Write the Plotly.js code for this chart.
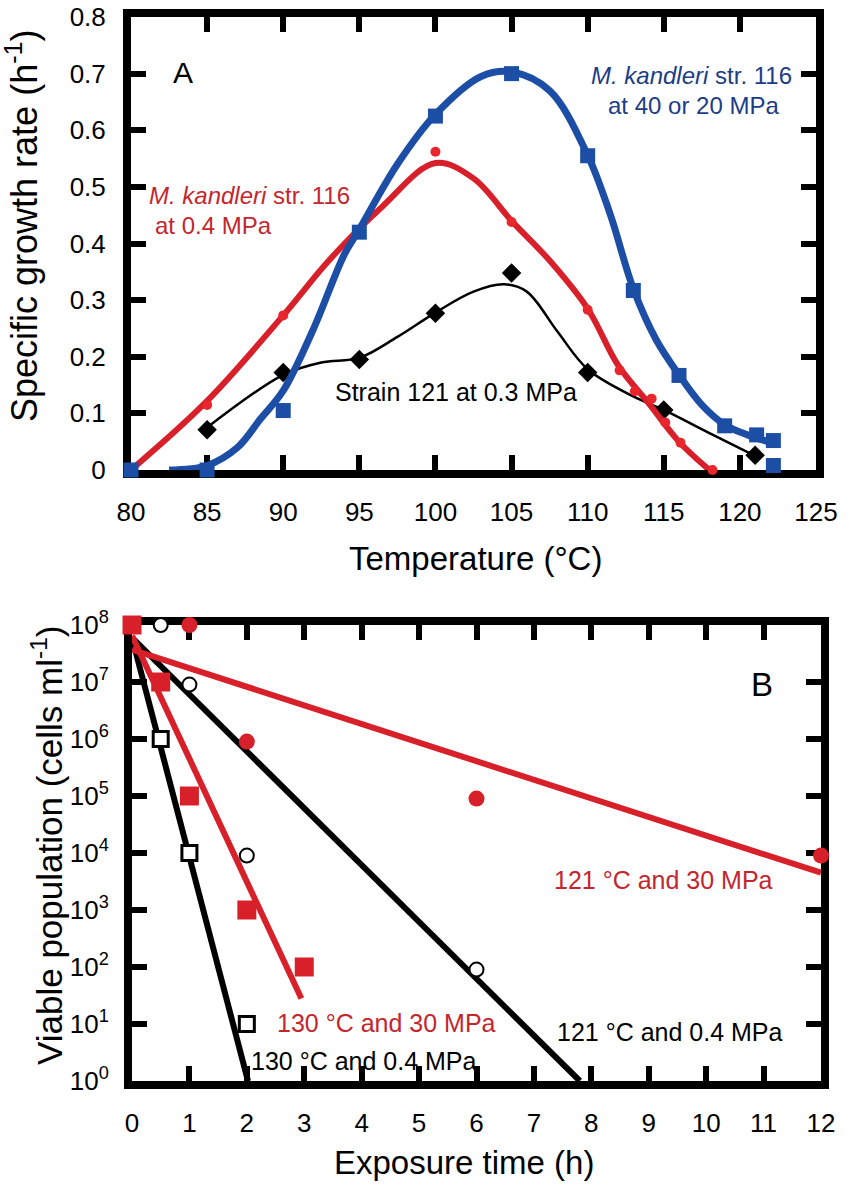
<!DOCTYPE html>
<html>
<head>
<meta charset="utf-8">
<script src="https://cdn.plot.ly/plotly-3.0.1.min.js"></script>
<style>html,body{margin:0;padding:0;background:#fff;}#chart{width:850px;height:1186px;}</style>
</head>
<body>
<div id="chart"></div>
<script>
// ---------- Panel A: specific growth rate vs temperature ----------
const tempBlue = [80, 85, 90, 95, 100, 105, 110, 113, 116, 119, 121.1, 122.2, 122.2];
const rateBlue = [0, 0, 0.105, 0.42, 0.625, 0.70, 0.555, 0.317, 0.167, 0.078, 0.062, 0.052, 0.008];
const fitTempBlue = [82.5, 85, 87, 88.5, 90, 92, 94, 95, 97.5, 100, 103, 105, 107.5, 110, 111.5, 113, 114.5, 116, 117.5, 119, 120.5, 122.5];
const fitRateBlue = [0, 0.008, 0.04, 0.09, 0.14, 0.25, 0.38, 0.425, 0.54, 0.628, 0.695, 0.703, 0.67, 0.556, 0.45, 0.32, 0.23, 0.168, 0.115, 0.08, 0.062, 0.045];

const tempRed = [80, 85, 90, 100, 105, 110, 112.1, 113.1, 114.2, 115.1, 116.1, 118.2];
const rateRed = [0, 0.115, 0.273, 0.562, 0.438, 0.283, 0.176, 0.139, 0.126, 0.084, 0.048, 0];
const fitTempRed = [80, 85, 90, 93, 96.5, 100, 102.5, 105, 107.5, 110, 112, 114, 116, 118];
const fitRateRed = [0, 0.122, 0.273, 0.37, 0.465, 0.542, 0.515, 0.44, 0.37, 0.285, 0.185, 0.118, 0.05, 0];

const tempBlack = [85, 90, 95, 100, 105, 110, 115, 121];
const rateBlack = [0.071, 0.172, 0.195, 0.277, 0.348, 0.172, 0.106, 0.026];
const fitTempBlack = [85, 90, 92.5, 95, 97.5, 100, 102.5, 104.5, 106, 108, 110, 113, 115, 118, 121];
const fitRateBlack = [0.075, 0.168, 0.19, 0.198, 0.235, 0.278, 0.315, 0.328, 0.315, 0.245, 0.178, 0.13, 0.106, 0.065, 0.025];

const tempTicks = [80, 85, 90, 95, 100, 105, 110, 115, 120, 125];

// ---------- Panel B: viable population vs exposure time ----------
const timeRedSq = [0, 0.5, 1, 2, 3];            // 130 °C, 30 MPa
const popRedSq = [1e8, 1e7, 1e5, 1e3, 1e2];
const timeOpenSq = [0.5, 1, 2];                  // 130 °C, 0.4 MPa
const popOpenSq = [1e6, 1e4, 10];
const timeOpenCirc = [0.5, 1, 2, 6];             // 121 °C, 0.4 MPa
const popOpenCirc = [1e8, 9e6, 9e3, 90];
const timeRedCirc = [1, 2, 6, 12];               // 121 °C, 30 MPa
const popRedCirc = [1e8, 9e5, 9e4, 9e3];

const fitTime121_30 = [0, 12];
const fitPop121_30 = [3.7e7, 4.5e3];
const fitTime121_04 = [0, 7.8];
const fitPop121_04 = [6e7, 1];
const fitTime130_30 = [0, 2.95];
const fitPop130_30 = [6.5e7, 28];
const fitTime130_04 = [0, 2.02];
const fitPop130_04 = [6e7, 1];

const popTickVals = [1, 10, 100, 1e3, 1e4, 1e5, 1e6, 1e7, 1e8];
const popTickText = ['10<sup>0</sup>', '10<sup>1</sup>', '10<sup>2</sup>', '10<sup>3</sup>', '10<sup>4</sup>',
                     '10<sup>5</sup>', '10<sup>6</sup>', '10<sup>7</sup>', '10<sup>8</sup>'];
const timeTicks = [0, 1, 2, 3, 4, 5, 6, 7, 8, 9, 10, 11, 12];

const RED = '#d8202a';
const RED_TXT = '#c4262e';
const BLUE = '#1d4ea6';
const BLUE_TXT = '#1b3d86';
const FONT = 'Liberation Sans, Arial, Helvetica, sans-serif';

const traces = [
  // Panel A
  {x: fitTempBlack, y: fitRateBlack, mode: 'lines', line: {color: '#000', width: 2.5, shape: 'spline', smoothing: 1}, xaxis: 'x', yaxis: 'y', cliponaxis: false},
  {x: tempBlack, y: rateBlack, mode: 'markers', marker: {symbol: 'diamond', size: 15, color: '#000'}, xaxis: 'x', yaxis: 'y', cliponaxis: false},
  {x: fitTempRed, y: fitRateRed, mode: 'lines', line: {color: RED, width: 6, shape: 'spline', smoothing: 1}, xaxis: 'x', yaxis: 'y', cliponaxis: false},
  {x: tempRed, y: rateRed, mode: 'markers', marker: {symbol: 'circle', size: 10, color: '#e8262c'}, xaxis: 'x', yaxis: 'y', cliponaxis: false},
  {x: fitTempBlue, y: fitRateBlue, mode: 'lines', line: {color: BLUE, width: 7, shape: 'spline', smoothing: 1}, xaxis: 'x', yaxis: 'y', cliponaxis: false},
  {x: tempBlue, y: rateBlue, mode: 'markers', marker: {symbol: 'square', size: 15, color: BLUE}, xaxis: 'x', yaxis: 'y', cliponaxis: false},
  // Panel B
  {x: fitTime121_04, y: fitPop121_04, mode: 'lines', line: {color: '#000', width: 6}, xaxis: 'x2', yaxis: 'y2', cliponaxis: false},
  {x: fitTime130_04, y: fitPop130_04, mode: 'lines', line: {color: '#000', width: 6}, xaxis: 'x2', yaxis: 'y2', cliponaxis: false},
  {x: fitTime121_30, y: fitPop121_30, mode: 'lines', line: {color: RED, width: 6}, xaxis: 'x2', yaxis: 'y2', cliponaxis: false},
  {x: fitTime130_30, y: fitPop130_30, mode: 'lines', line: {color: RED, width: 6}, xaxis: 'x2', yaxis: 'y2', cliponaxis: false},
  {x: timeOpenCirc, y: popOpenCirc, mode: 'markers', marker: {symbol: 'circle', size: 14, color: '#fff', line: {color: '#000', width: 2}}, xaxis: 'x2', yaxis: 'y2', cliponaxis: false},
  {x: timeOpenSq, y: popOpenSq, mode: 'markers', marker: {symbol: 'square', size: 15, color: '#fff', line: {color: '#000', width: 3}}, xaxis: 'x2', yaxis: 'y2', cliponaxis: false},
  {x: timeRedCirc, y: popRedCirc, mode: 'markers', marker: {symbol: 'circle', size: 16, color: RED}, xaxis: 'x2', yaxis: 'y2', cliponaxis: false},
  {x: timeRedSq, y: popRedSq, mode: 'markers', marker: {symbol: 'square', size: 19, color: RED}, xaxis: 'x2', yaxis: 'y2', cliponaxis: false}
];

const W = 850, H = 1186;
const px = v => v / W;
const py = v => 1 - v / H;

function axisBase(extra) {
  return Object.assign({
    showline: true, linecolor: '#000', linewidth: 8, mirror: 'ticks',
    ticks: 'inside', ticklen: 15, tickwidth: 6, tickcolor: '#000',
    showgrid: false, zeroline: false, layer: 'below traces',
    tickfont: {family: FONT, size: 26, color: '#000'}, fixedrange: true
  }, extra);
}

function ann(text, x, y, size, color, opts) {
  return Object.assign({text: text, x: px(x), y: py(y), xref: 'paper', yref: 'paper', showarrow: false,
    xanchor: 'center', yanchor: 'middle', font: {family: FONT, size: size, color: color}}, opts || {});
}

const layout = {
  width: W, height: H,
  margin: {l: 0, r: 0, t: 0, b: 0},
  paper_bgcolor: '#fff', plot_bgcolor: '#fff',
  showlegend: false,
  font: {family: FONT, color: '#000', size: 24},
  xaxis: axisBase({domain: [131 / W, 816 / W], anchor: 'y', range: [80, 125],
    tickvals: tempTicks, ticktext: tempTicks.map(String), ticklabelstandoff: 12}),
  yaxis: axisBase({domain: [py(470), py(17)], anchor: 'x', range: [0, 0.8],
    dtick: 0.1, tick0: 0, ticklabelstandoff: 12}),
  xaxis2: axisBase({domain: [132 / W, 821 / W], anchor: 'y2', range: [0, 12],
    tickvals: timeTicks, ticktext: timeTicks.map(String), ticklabelstandoff: 12}),
  yaxis2: axisBase({domain: [py(1081), py(625)], anchor: 'x2', type: 'log', range: [0, 8],
    tickvals: popTickVals, ticktext: popTickText, ticklabelstandoff: 10}),
  annotations: [
    // axis titles
    ann('Temperature (°C)', 475, 558, 33, '#000'),
    ann('Specific growth rate (h<sup>-1</sup>)', 22, 226, 36, '#000', {textangle: -90}),
    ann('Exposure time (h)', 464, 1162, 33, '#000'),
    ann('Viable population (cells ml<sup>-1</sup>)', 47, 846, 35, '#000', {textangle: -90}),
    // panel labels
    ann('A', 183, 72, 30, '#000'),
    ann('B', 762, 684, 33, '#000'),
    // panel A series labels
    ann('<i>M. kandleri</i> str. 116', 147, 195, 24, RED_TXT, {xanchor: 'left'}),
    ann('at 0.4 MPa', 153, 225, 24, RED_TXT, {xanchor: 'left'}),
    ann('<i>M. kandleri</i> str. 116', 691, 76, 24, BLUE_TXT),
    ann('at 40 or 20 MPa', 693, 105, 24, BLUE_TXT),
    ann('Strain 121 at 0.3 MPa', 333, 392, 25, '#000', {xanchor: 'left'}),
    // panel B series labels
    ann('121 °C and 30 MPa', 663, 880, 25, RED_TXT),
    ann('130 °C and 30 MPa', 386, 1023, 25, RED_TXT),
    ann('130 °C and 0.4 MPa', 364, 1061, 25, '#000'),
    ann('121 °C and 0.4 MPa', 670, 1032, 25, '#000')
  ]
};

Plotly.newPlot('chart', traces, layout, {displayModeBar: false, staticPlot: true});
</script>
</body>
</html>
